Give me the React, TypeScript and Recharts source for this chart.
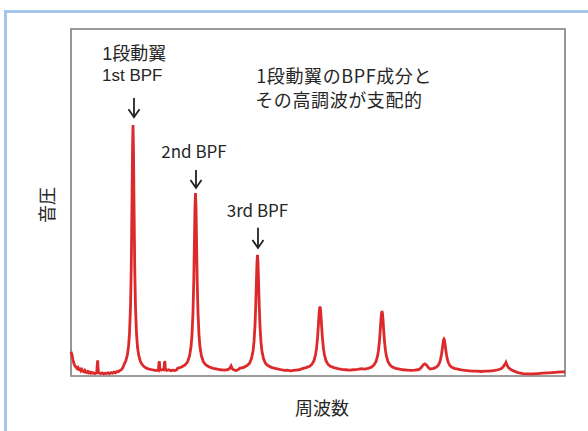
import React from 'react';
import { LineChart, Line, XAxis, YAxis, ReferenceArea, ReferenceDot, ReferenceLine } from 'recharts';

// Spectrum: frequency (relative units, 0-1000) and sound pressure level (relative, 0-100)
const spectrumFreq = [
  0, 2, 4, 6, 8, 10, 12, 14, 16, 18, 20, 22, 24, 26, 28, 30, 32, 34, 36, 38, 40, 42, 44, 46, 48, 50, 52, 53, 54, 55, 56, 58, 60, 63, 66, 69, 72, 75, 78, 81, 84, 87, 90, 93, 96, 99, 102, 105,
  108, 111, 114, 116.5, 118.5, 120.5, 122, 123.5, 124.5, 125.5, 126.5, 127.5, 129, 130.5, 132.5, 134.5, 137, 140, 143, 147, 152, 158, 164, 170, 175, 177, 178, 179, 180, 183, 186, 188, 189, 190, 191, 194, 198, 202, 206, 210, 214,
  216, 224, 231, 236, 240, 243, 245, 247, 248.5, 250, 251, 252, 253, 254, 255.5, 257, 259, 261, 264, 268, 273, 280, 288, 296, 303, 310, 316, 320, 322, 324, 326, 329, 334, 338,
  341.5, 349.5, 356.5, 361.5, 365.5, 368.5, 370.5, 372.5, 374, 375.5, 376.5, 377.5, 378.5, 379.5, 381, 382.5, 384.5, 386.5, 389.5, 393.5, 398.5, 405.5, 413.5, 420, 426, 432, 438, 444, 450, 456, 462,
  468, 476, 483, 488, 492, 495, 497, 499, 500.5, 502, 503, 504, 505, 506, 507.5, 509, 511, 513, 516, 520, 525, 532, 540, 548, 556, 564, 572, 580, 588,
  594, 601.5, 608.5, 613.5, 617.5, 620.5, 622.5, 624.5, 626, 627.5, 628.5, 629.5, 630.5, 631.5, 633, 634.5, 636.5, 638.5, 641.5, 645.5, 650.5, 657.5, 665, 672, 680, 688, 696, 702, 706, 710, 713, 716.5, 720, 723, 726,
  727, 734, 739, 743, 746, 748, 750, 751.5, 753, 754, 755, 756, 757, 758.5, 760, 762, 764, 767, 771, 776, 783, 790, 798, 806, 814, 822, 830, 838, 846, 852, 858,
  864.5, 870.5, 874.5, 877.5, 879.5, 880.5, 881.5, 883.5, 886.5, 891, 897, 905, 915, 925, 935, 945, 955, 965, 975, 985, 995, 1000,
];
const spectrumLevel = [
  7.0, 6.2, 4.6, 3.6, 2.9, 2.6, 2.2, 2.5, 1.9, 2.0, 1.5, 1.9, 1.4, 1.2, 1.6, 1.1, 1.0, 1.3, 0.9, 1.1, 0.8, 1.0, 0.8, 0.9, 0.7, 0.8, 0.9, 3.0, 4.5, 2.0, 0.9, 0.8, 0.7, 0.9, 0.6, 0.8, 0.7, 0.9, 0.7, 1.0, 0.8, 1.1, 0.9, 1.3, 1.2, 1.6, 1.8, 2.4,
  3.5, 4.4, 6.0, 8.5, 12.4, 20.2, 31.4, 50.5, 65, 72.3, 65, 50.5, 31.4, 20.2, 12.4, 8.5, 6.0, 4.4, 3.5, 2.8, 2.3, 2.0, 1.8, 1.6, 1.7, 1.6, 3.8, 4.2, 1.8, 1.7, 1.9, 1.8, 3.6, 4.3, 2.2, 1.6, 1.8, 1.5, 1.7, 1.6, 1.8,
  2.25, 2.6, 3.2, 4.1, 5.8, 8.5, 12, 18.6, 27.3, 40.2, 48.9, 52.7, 48.9, 40.2, 27.3, 18.6, 12, 8.5, 5.8, 4.1, 3.2, 2.6, 2.2, 2.0, 1.8, 1.7, 1.8, 2.0, 2.4, 2.9, 2.2, 1.8, 1.6, 1.8,
  2.2, 2.5, 3.0, 3.7, 5.1, 7.2, 9.9, 14.7, 20.5, 28.2, 32.8, 34.9, 32.8, 28.2, 20.5, 14.7, 9.9, 7.2, 5.1, 3.7, 3.0, 2.5, 2.2, 2.0, 1.8, 1.6, 1.7, 1.5, 1.6, 1.7, 1.8,
  2.1, 2.4, 2.8, 3.4, 4.5, 6.1, 7.95, 10.9, 14, 17.5, 19.3, 20, 19.3, 17.5, 14, 10.9, 7.95, 6.1, 4.5, 3.4, 2.8, 2.4, 2.1, 1.9, 1.8, 1.7, 1.8, 1.9, 2.1,
  2.0, 2.2, 2.6, 3.2, 4.2, 5.7, 7.45, 10.2, 13.1, 16.4, 18.0, 18.7, 18.0, 16.4, 13.1, 10.2, 7.45, 5.7, 4.2, 3.2, 2.6, 2.2, 2.0, 1.8, 1.7, 1.6, 1.7, 1.8, 2.0, 2.6, 3.2, 3.5, 3.1, 2.5, 2.1,
  2.0, 2.2, 2.5, 3.0, 3.8, 4.7, 6.2, 7.7, 9.4, 10.3, 10.6, 10.3, 9.4, 7.7, 6.2, 4.7, 3.8, 3.0, 2.5, 2.2, 2.0, 1.8, 1.6, 1.5, 1.4, 1.4, 1.3, 1.4, 1.4, 1.5, 1.6,
  1.8, 2.1, 2.6, 3.2, 3.6, 3.9, 3.5, 2.9, 2.3, 1.8, 1.4, 1.0, 0.7, 0.6, 0.6, 0.7, 0.8, 0.9, 1.0, 1.1, 1.2, 1.2,
];

// Annotation for the first peak: two lines (Japanese + English), anchored at data coordinates
const firstNoteLines = ['1段動翼', '1st BPF'];
const firstNoteX = 128;
const firstNoteY = 92.8;

const noteText = ['2nd BPF', '3rd BPF'];
const noteX = [249, 377.5];
const noteY = [64.9, 48.1];

const arrowX = [127.5, 253, 378.5];
const arrowTop = [80.1, 59.4, 42.7];
const arrowTip = [74.6, 54.2, 36.9];

const summaryLines = ['1段動翼のBPF成分と', 'その高調波が支配的'];
const summaryX = 373;
const summaryY = 86.7;

const xTitle = '周波数';
const yTitle = '音圧';

const data = spectrumFreq.map((f, i) => ({ f, level: spectrumLevel[i] }));

const FONT = '"Noto Sans CJK JP", "Noto Sans", sans-serif';
const NOTE_FONT = '"Liberation Sans", "Noto Sans CJK JP", sans-serif';
const TEXT_COLOR = '#262626';

export default function App() {
  return (
    <div style={{ position: 'absolute', left: 0, top: 0, width: 588, height: 431, background: '#fff', fontFamily: FONT }}>
      <div
        style={{
          position: 'absolute',
          left: 4,
          top: 10,
          width: 584,
          height: 421,
          borderTop: '3px solid #a4c6e8',
          borderLeft: '3px solid #a4c6e8',
          boxSizing: 'border-box',
        }}
      />
      <div style={{ position: 'absolute', left: 0, top: 0 }}>
        <LineChart width={588} height={431} data={data} margin={{ top: 29, right: 23, bottom: 55, left: 71 }}>
          <XAxis type="number" dataKey="f" domain={[0, 1000]} hide />
          <YAxis type="number" domain={[0, 100]} hide />
          <Line
            type="linear"
            dataKey="level"
            stroke="#dc2a2c"
            strokeWidth={2.8}
            dot={false}
            isAnimationActive={false}
          />
          <ReferenceArea x1={0} x2={1000} y1={0} y2={100} fill="none" stroke="#7c7c7c" strokeWidth={1.6} ifOverflow="visible" />
          <ReferenceDot
            x={firstNoteX}
            y={firstNoteY}
            ifOverflow="visible"
            shape={(p: any) => (
              <text x={p.cx} y={p.cy} textAnchor="middle" dominantBaseline="central" fontSize={18} fill={TEXT_COLOR} fontFamily={NOTE_FONT}>
                <tspan x={p.cx} dy={0}>{firstNoteLines[0]}</tspan>
                <tspan x={p.cx - 2} dy={21} fontSize={17}>{firstNoteLines[1]}</tspan>
              </text>
            )}
          />
          {noteText.map((t, i) => (
            <ReferenceDot
              key={'n' + i}
              x={noteX[i]}
              y={noteY[i]}
              ifOverflow="visible"
              shape={(p: any) => (
                <text x={p.cx} y={p.cy} textAnchor="middle" dominantBaseline="central" fontSize={17} fill={TEXT_COLOR} fontFamily={FONT}>
                  {t}
                </text>
              )}
            />
          ))}
          {arrowX.map((x, i) => (
            <ReferenceLine
              key={'al' + i}
              segment={[{ x, y: arrowTop[i] }, { x, y: arrowTip[i] }]}
              stroke="#222"
              strokeWidth={1.8}
              ifOverflow="visible"
            />
          ))}
          {arrowX.map((x, i) => (
            <ReferenceDot
              key={'ah' + i}
              x={x}
              y={arrowTip[i]}
              ifOverflow="visible"
              shape={(p: any) => (
                <path
                  d={`M${p.cx - 5.5},${p.cy - 8} L${p.cx},${p.cy} L${p.cx + 5.5},${p.cy - 8}`}
                  fill="none"
                  stroke="#222"
                  strokeWidth={1.8}
                />
              )}
            />
          ))}
          <ReferenceDot
            x={summaryX}
            y={summaryY}
            ifOverflow="visible"
            shape={(p: any) => (
              <text x={p.cx} y={p.cy} textAnchor="start" dominantBaseline="central" fontSize={18} fill={TEXT_COLOR} fontFamily={FONT} letterSpacing={0.6}>
                <tspan x={p.cx + 1} dy={0}>{summaryLines[0]}</tspan>
                <tspan x={p.cx} dy={24}>{summaryLines[1]}</tspan>
              </text>
            )}
          />
        </LineChart>
      </div>
      <div
        style={{
          position: 'absolute',
          left: 272,
          top: 395,
          width: 100,
          textAlign: 'center',
          fontSize: 18,
          lineHeight: '24px',
          color: TEXT_COLOR,
        }}
      >
        {xTitle}
      </div>
      <div
        style={{
          position: 'absolute',
          left: 16,
          top: 193,
          width: 60,
          height: 24,
          textAlign: 'center',
          fontSize: 18,
          lineHeight: '24px',
          color: TEXT_COLOR,
          transform: 'rotate(-90deg)',
        }}
      >
        {yTitle}
      </div>
    </div>
  );
}
